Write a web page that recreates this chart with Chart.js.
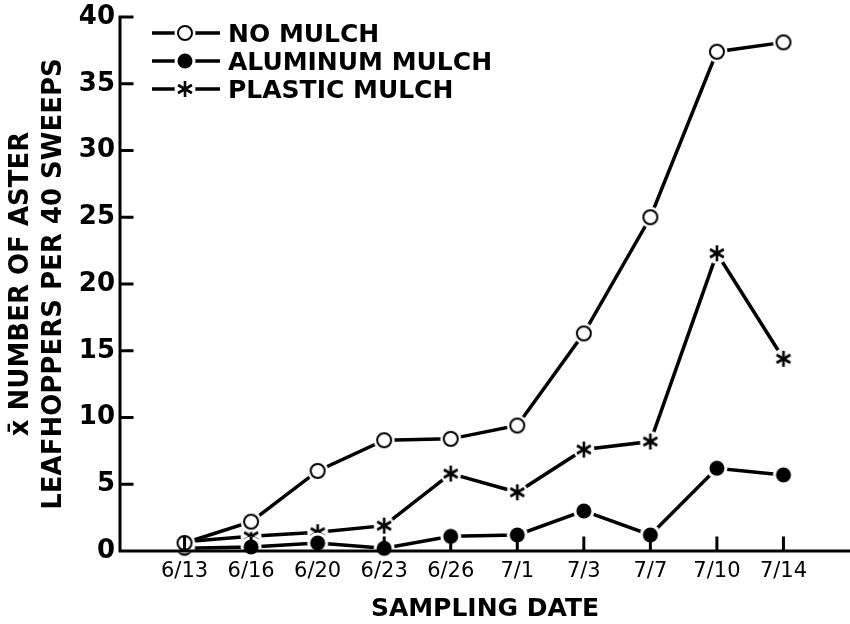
<!DOCTYPE html>
<html>
<head>
<meta charset="utf-8">
<title>Aster leafhoppers by mulch</title>
<script src="https://cdn.jsdelivr.net/npm/chart.js@4.4.1/dist/chart.umd.min.js"></script>
<style>
  html, body { margin: 0; padding: 0; background: #fff; }
  canvas { display: block; }
</style>
</head>
<body>
<canvas id="chart" width="850" height="624"></canvas>
<script>
const dates = ["6/13", "6/16", "6/20", "6/23", "6/26", "7/1", "7/3", "7/7", "7/10", "7/14"];
const noMulch = [0.6, 2.2, 6.0, 8.3, 8.4, 9.4, 16.3, 25.0, 37.4, 38.1];
const aluminumMulch = [0.2, 0.3, 0.6, 0.2, 1.1, 1.2, 3.0, 1.2, 6.2, 5.7];
const plasticMulch = [0.7, 1.1, 1.4, 1.9, 5.8, 4.4, 7.6, 8.2, 22.3, 14.4];
const yTicks = [0, 5, 10, 15, 20, 25, 30, 35, 40];
const seriesNames = ["NO MULCH", "ALUMINUM MULCH", "PLASTIC MULCH"];

const FONT = "DejaVu Sans";

// marker drawn on its own canvas, with a white ring so the line stops short of it
function makeMarker(kind) {
  const c = document.createElement("canvas");
  c.width = 24; c.height = 24;
  const g = c.getContext("2d");
  g.translate(12, 12);
  g.fillStyle = "#fff";
  g.beginPath(); g.arc(0, 0, 10.5, 0, Math.PI * 2); g.fill();
  g.strokeStyle = "#000";
  if (kind === "open") {
    g.lineWidth = 2;
    g.beginPath(); g.arc(0, 0, 7, 0, Math.PI * 2); g.fill(); g.stroke();
  } else if (kind === "filled") {
    g.fillStyle = "#000";
    g.beginPath(); g.arc(0, 0, 7.5, 0, Math.PI * 2); g.fill();
  } else {
    g.lineWidth = 2.6;
    for (const a of [90, 30, 150]) {
      const r = a * Math.PI / 180;
      g.beginPath();
      g.moveTo(-8 * Math.cos(r), -8 * Math.sin(r));
      g.lineTo(8 * Math.cos(r), 8 * Math.sin(r));
      g.stroke();
    }
  }
  return c;
}

const markers = [makeMarker("open"), makeMarker("filled"), makeMarker("star")];
const seriesValues = [noMulch, aluminumMulch, plasticMulch];

// axes drawn after the data so markers sitting on zero don't break the line
const axisFrame = {
  id: "axisFrame",
  afterDatasetsDraw(chart) {
    const { ctx, chartArea: a, scales: { x, y } } = chart;
    ctx.save();
    ctx.strokeStyle = "#000";
    ctx.lineWidth = 3;
    ctx.lineCap = "square";
    ctx.beginPath();
    ctx.moveTo(a.left, a.top);
    ctx.lineTo(a.left, a.bottom);
    ctx.lineTo(a.right, a.bottom);
    y.ticks.forEach(t => {
      const py = y.getPixelForValue(t.value);
      ctx.moveTo(a.left, py); ctx.lineTo(a.left + 12, py);
    });
    x.ticks.forEach(t => {
      const px = x.getPixelForValue(t.value);
      ctx.moveTo(px, a.bottom); ctx.lineTo(px, a.bottom - 13);
    });
    ctx.stroke();
    ctx.restore();
  }
};

// legend in the top-left corner: line, marker, line, label
const inlineLegend = {
  id: "inlineLegend",
  afterDraw(chart, args, opts) {
    const ctx = chart.ctx;
    ctx.save();
    chart.data.datasets.forEach((ds, i) => {
      const yy = opts.top + i * opts.rowGap;
      const l = opts.left;
      ctx.strokeStyle = "#000";
      ctx.lineWidth = 3.5;
      ctx.beginPath();
      ctx.moveTo(l, yy); ctx.lineTo(l + 26, yy);
      ctx.moveTo(l + 40, yy); ctx.lineTo(l + 68, yy);
      ctx.stroke();
      ctx.drawImage(ds.pointStyle, l + 33 - 12, yy - 12);
      ctx.fillStyle = "#000";
      ctx.font = "bold 25px '" + FONT + "'";
      ctx.textBaseline = "alphabetic";
      ctx.fillText(ds.label, l + 76, yy + 9);
    });
    ctx.restore();
  }
};

new Chart(document.getElementById("chart"), {
  type: "line",
  data: {
    datasets: seriesNames.map((name, i) => ({
      label: name,
      data: seriesValues[i].map((v, j) => ({ x: j, y: v })),
      borderColor: "#000",
      borderWidth: 3.5,
      tension: 0,
      fill: false,
      clip: false,
      pointStyle: markers[i],
      pointRadius: 10,
      pointHoverRadius: 10
    }))
  },
  options: {
    responsive: false,
    devicePixelRatio: 1,
    animation: false,
    events: [],
    layout: { autoPadding: false, padding: { top: 17, left: 0, right: 0, bottom: 0 } },
    plugins: {
      legend: { display: false },
      tooltip: { enabled: false },
      inlineLegend: { left: 152, top: 33, rowGap: 28 }
    },
    scales: {
      x: {
        type: "linear",
        min: -0.97,
        max: 10,
        afterBuildTicks: s => { s.ticks = dates.map((d, i) => ({ value: i })); },
        afterFit: s => { s.height = 73; s.paddingLeft = 0; s.paddingRight = 0; },
        ticks: {
          callback: v => dates[v],
          font: { family: FONT, size: 21 },
          color: "#000",
          padding: 8,
          maxRotation: 0,
          autoSkip: false
        },
        grid: { display: false, drawTicks: false },
        border: { display: false },
        title: {
          display: true,
          text: "SAMPLING DATE",
          font: { family: FONT, size: 25, weight: "bold", lineHeight: 1.2 },
          color: "#000",
          padding: { top: 8, bottom: 0 }
        }
      },
      y: {
        min: 0,
        max: 40,
        afterBuildTicks: s => { s.ticks = yTicks.map(v => ({ value: v })); },
        afterFit: s => { s.width = 120; s.paddingTop = 0; s.paddingBottom = 0; },
        ticks: {
          font: { family: FONT, size: 26, weight: "bold" },
          color: "#000",
          padding: 5
        },
        grid: { display: false, drawTicks: false },
        border: { display: false },
        title: {
          display: true,
          text: ["x\u0304 NUMBER OF ASTER", "LEAFHOPPERS PER 40 SWEEPS"],
          font: { family: FONT, size: 26, weight: "bold", lineHeight: 1.3 },
          color: "#000",
          padding: { top: 4, bottom: 0 }
        }
      }
    }
  },
  plugins: [axisFrame, inlineLegend]
});
</script>
</body>
</html>
